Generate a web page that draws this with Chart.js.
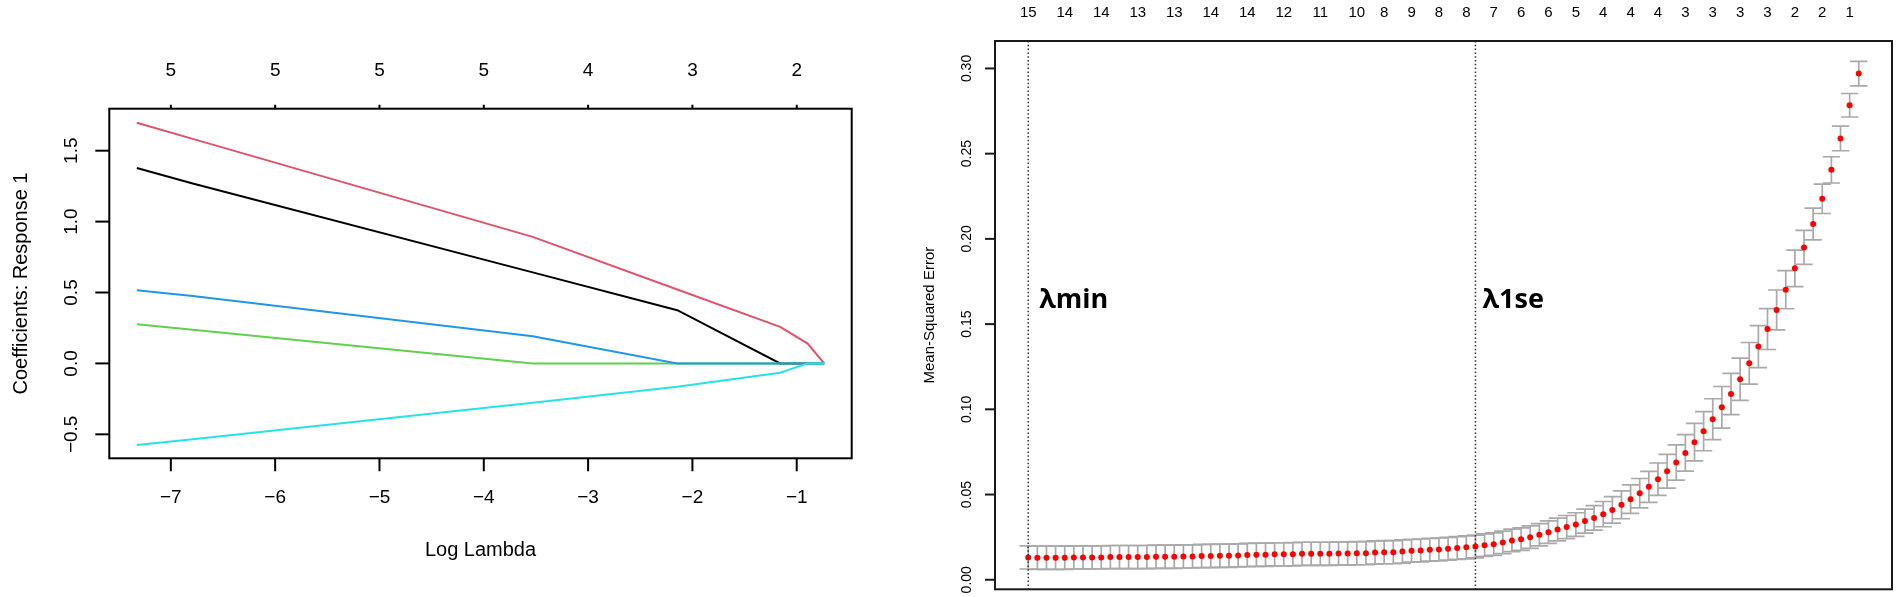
<!DOCTYPE html>
<html>
<head>
<meta charset="utf-8">
<title>LASSO coefficient paths and cross-validation</title>
<script src="https://cdn.jsdelivr.net/npm/chart.js@4.4.1/dist/chart.umd.min.js"></script>
<style>
  html, body { margin: 0; padding: 0; background: #fff; }
  body { width: 1901px; height: 597px; position: relative; overflow: hidden; }
  canvas { position: absolute; top: 0; }
  #coefChart { left: 0; }
  #cvChart { left: 880px; }
</style>
</head>
<body>
<canvas id="coefChart" width="940" height="597"></canvas>
<canvas id="cvChart" width="1021" height="597"></canvas>
<script>
// ======================
// Left panel: coefficient paths
// ======================
const logLambda = [-7.326, -6.79, -3.531, -2.145, -1.159, -0.895, -0.737];
const coefBlack = [1.378, 1.268, 0.642, 0.375, 0, 0, 0];
const coefRed   = [1.697, 1.583, 0.892, 0.521, 0.258, 0.14, 0];
const coefGreen = [0.277, 0.238, 0, 0, 0, 0, 0];
const coefBlue  = [0.516, 0.476, 0.192, 0, 0, 0, 0];
const coefCyan  = [-0.575, -0.535, -0.277, -0.165, -0.066, 0, 0];

const pathTicks = [-7, -6, -5, -4, -3, -2, -1];
const pathDf = ["5", "5", "5", "5", "4", "3", "2"];
const coefTicks = [-0.5, 0, 0.5, 1, 1.5];

// ======================
// Right panel: CV error (one point per lambda step)
// ======================
const cvm = [
  0.0131, 0.0129, 0.0129, 0.0129, 0.0129, 0.0131, 0.0131, 0.0131, 0.0131, 0.0133,
  0.0133, 0.0133, 0.0133, 0.0133, 0.0135, 0.0135, 0.0135, 0.0137, 0.0137, 0.0139,
  0.0139, 0.0141, 0.0141, 0.0143, 0.0145, 0.0147, 0.0147, 0.0149, 0.0149, 0.0150,
  0.0152, 0.0152, 0.0152, 0.0152, 0.0154, 0.0154, 0.0156, 0.0156, 0.0160, 0.0162,
  0.0162, 0.0166, 0.0170, 0.0172, 0.0176, 0.0178, 0.0182, 0.0186, 0.0190, 0.0195,
  0.0203, 0.0209, 0.0219, 0.0231, 0.0238, 0.0250, 0.0264, 0.0279, 0.0295, 0.0309,
  0.0324, 0.0344, 0.0363, 0.0385, 0.0410, 0.0440, 0.0473, 0.0508, 0.0545, 0.0590,
  0.0637, 0.0688, 0.0744, 0.0807, 0.0872, 0.0942, 0.1012, 0.1090, 0.1176, 0.1270,
  0.1368, 0.1471, 0.1583, 0.1702, 0.1827, 0.1950, 0.2087, 0.2235, 0.2405, 0.2589,
  0.2784, 0.2970
];
const cvsd = [
  0.0068, 0.0068, 0.0068, 0.0068, 0.0068, 0.0068, 0.0068, 0.0068, 0.0068, 0.0068,
  0.0068, 0.0068, 0.0068, 0.0068, 0.0068, 0.0068, 0.0068, 0.0068, 0.0068, 0.0068,
  0.0068, 0.0068, 0.0068, 0.0068, 0.0068, 0.0068, 0.0068, 0.0068, 0.0068, 0.0068,
  0.0068, 0.0068, 0.0068, 0.0068, 0.0068, 0.0068, 0.0068, 0.0068, 0.0068, 0.0068,
  0.0068, 0.0068, 0.0067, 0.0067, 0.0067, 0.0067, 0.0067, 0.0067, 0.0067, 0.0067,
  0.0066, 0.0066, 0.0066, 0.0066, 0.0066, 0.0066, 0.0065, 0.0066, 0.0067, 0.0068,
  0.0069, 0.0070, 0.0072, 0.0074, 0.0078, 0.0082, 0.0084, 0.0086, 0.0091, 0.0095,
  0.0099, 0.0103, 0.0107, 0.0110, 0.0115, 0.0120, 0.0122, 0.0121, 0.0124, 0.0122,
  0.0123, 0.0120, 0.0117, 0.0112, 0.0107, 0.0100, 0.0093, 0.0086, 0.0077, 0.0072,
  0.0069, 0.0072
];
// number of non-zero coefficients, shown above the steps R kept a label for
const nzAt = [0, 4, 8, 12, 16, 20, 24, 28, 32, 36, 39, 42, 45, 48, 51, 54, 57, 60, 63, 66, 69, 72, 75, 78, 81, 84, 87, 90];
const nzLabels = ["15", "14", "14", "13", "13", "14", "14", "12", "11", "10", "8", "9", "8", "8", "7", "6", "6", "5", "4", "4", "4", "3", "3", "3", "3", "2", "2", "1"];
const mseTicks = [0, 0.05, 0.1, 0.15, 0.2, 0.25, 0.3];
const lambdaMinIdx = 0;
const lambda1seIdx = 49;

const FONT = "'Liberation Sans', Arial, Helvetica, sans-serif";

function rNum(v, digits) {
  return v.toFixed(digits).replace("-", "\u2212");
}

// rotated text (reads bottom to top, like R's y axis)
function vText(ctx, str, x, y) {
  ctx.save();
  ctx.translate(x, y);
  ctx.rotate(-Math.PI / 2);
  ctx.fillText(str, 0, 0);
  ctx.restore();
}

// ======================
// Coefficient path chart
// ======================
const pathAxes = {
  id: "pathAxes",
  afterDraw(chart) {
    const { ctx, chartArea: a } = chart;
    const xs = chart.scales.x, ys = chart.scales.y;
    ctx.save();
    ctx.strokeStyle = "#000";
    ctx.fillStyle = "#000";
    ctx.lineWidth = 2;
    ctx.strokeRect(a.left, a.top, a.right - a.left, a.bottom - a.top);

    ctx.textAlign = "center";
    ctx.textBaseline = "middle";
    ctx.font = "19px " + FONT;
    pathTicks.forEach((v, i) => {
      const px = xs.getPixelForValue(v);
      ctx.beginPath();
      ctx.moveTo(px, a.bottom);
      ctx.lineTo(px, a.bottom + 13);
      ctx.moveTo(px, a.top);
      ctx.lineTo(px, a.top - 4);
      ctx.stroke();
      ctx.fillText(rNum(v, 0), px, 498);
      ctx.fillText(pathDf[i], px, 71);
    });
    coefTicks.forEach((v) => {
      const py = ys.getPixelForValue(v);
      ctx.beginPath();
      ctx.moveTo(a.left - 14, py);
      ctx.lineTo(a.left, py);
      ctx.stroke();
      vText(ctx, rNum(v, 1), 72, py);
    });

    ctx.font = "20px " + FONT;
    ctx.fillText("Log Lambda", (a.left + a.right) / 2, 550);
    vText(ctx, "Coefficients: Response 1", 21, (a.top + a.bottom) / 2);
    ctx.restore();
  },
};

function pathSet(values, color, order) {
  return {
    data: logLambda.map((x, i) => ({ x: x, y: values[i] })),
    borderColor: color,
    borderWidth: 2,
    pointRadius: 0,
    tension: 0,
    fill: false,
    order: order,
  };
}

new Chart(document.getElementById("coefChart"), {
  type: "line",
  data: {
    datasets: [
      pathSet(coefBlack, "#000000", 5),
      pathSet(coefRed, "#DF536B", 4),
      pathSet(coefGreen, "#61D04F", 3),
      pathSet(coefBlue, "#2297E6", 2),
      pathSet(coefCyan, "#28E2E5", 1),
    ],
  },
  options: {
    responsive: false,
    animation: false,
    layout: { padding: { left: 109.3, top: 108.7, right: 88.3, bottom: 138.7 } },
    plugins: { legend: { display: false }, tooltip: { enabled: false } },
    scales: {
      x: { type: "linear", display: false, min: -7.59, max: -0.473 },
      y: { type: "linear", display: false, min: -0.669, max: 1.796 },
    },
  },
  plugins: [pathAxes],
});

// ======================
// Cross-validation chart
// ======================
const cvDecor = {
  id: "cvDecor",
  beforeDatasetsDraw(chart) {
    // error bars under the points
    const { ctx } = chart;
    const xs = chart.scales.x, ys = chart.scales.y;
    const barw = 0.95;
    ctx.save();
    ctx.strokeStyle = "#A9A9A9";
    ctx.lineWidth = 1.7;
    cvm.forEach((m, i) => {
      const px = xs.getPixelForValue(i);
      const x0 = xs.getPixelForValue(i - barw), x1 = xs.getPixelForValue(i + barw);
      const up = ys.getPixelForValue(m + cvsd[i]);
      const lo = ys.getPixelForValue(m - cvsd[i]);
      ctx.beginPath();
      ctx.moveTo(px, up); ctx.lineTo(px, lo);
      ctx.moveTo(x0, up); ctx.lineTo(x1, up);
      ctx.moveTo(x0, lo); ctx.lineTo(x1, lo);
      ctx.stroke();
    });
    ctx.restore();
  },
  afterDatasetsDraw(chart) {
    // dotted lines at lambda.min and lambda.1se
    const { ctx, chartArea: a } = chart;
    const xs = chart.scales.x;
    ctx.save();
    ctx.strokeStyle = "#333";
    ctx.lineWidth = 1.5;
    ctx.setLineDash([1.5, 2.3]);
    [lambdaMinIdx, lambda1seIdx].forEach((i) => {
      const px = xs.getPixelForValue(i);
      ctx.beginPath();
      ctx.moveTo(px, a.top);
      ctx.lineTo(px, a.bottom);
      ctx.stroke();
    });
    ctx.restore();
  },
  afterDraw(chart) {
    const { ctx, chartArea: a } = chart;
    const xs = chart.scales.x, ys = chart.scales.y;
    ctx.save();
    ctx.strokeStyle = "#1a1a1a";
    ctx.fillStyle = "#000";
    ctx.lineWidth = 2;
    ctx.strokeRect(a.left, a.top, a.right - a.left, a.bottom - a.top);

    ctx.textAlign = "center";
    ctx.textBaseline = "middle";
    ctx.font = "14px " + FONT;
    mseTicks.forEach((v) => {
      const py = ys.getPixelForValue(v);
      ctx.beginPath();
      ctx.moveTo(a.left - 10, py);
      ctx.lineTo(a.left, py);
      ctx.stroke();
      vText(ctx, v.toFixed(2), 86.7, py);
    });

    ctx.font = "15px " + FONT;
    nzAt.forEach((idx, k) => {
      ctx.fillText(nzLabels[k], xs.getPixelForValue(idx), 13);
    });
    vText(ctx, "Mean-Squared Error", 50, (a.top + a.bottom) / 2);

    ctx.textAlign = "left";
    ctx.textBaseline = "alphabetic";
    ctx.font = "bold 27px 'Open Sans', 'Noto Sans', sans-serif";
    const ty = ys.getPixelForValue(0.1594);
    ctx.fillText("\u03BBmin", xs.getPixelForValue(lambdaMinIdx) + 11, ty);
    ctx.fillText("\u03BB1se", xs.getPixelForValue(lambda1seIdx) + 7, ty);
    ctx.restore();
  },
};

new Chart(document.getElementById("cvChart"), {
  type: "scatter",
  data: {
    datasets: [
      {
        data: cvm.map((m, i) => ({ x: i, y: m })),
        pointRadius: 3,
        pointBackgroundColor: "#FF0000",
        pointBorderWidth: 0,
        showLine: false,
      },
    ],
  },
  options: {
    responsive: false,
    animation: false,
    layout: { padding: { left: 115, top: 41, right: 9, bottom: 7.7 } },
    plugins: { legend: { display: false }, tooltip: { enabled: false } },
    scales: {
      x: { type: "linear", display: false, min: -3.64, max: 94.64 },
      y: { type: "linear", display: false, min: -0.0056, max: 0.3161 },
    },
  },
  plugins: [cvDecor],
});
</script>
</body>
</html>
